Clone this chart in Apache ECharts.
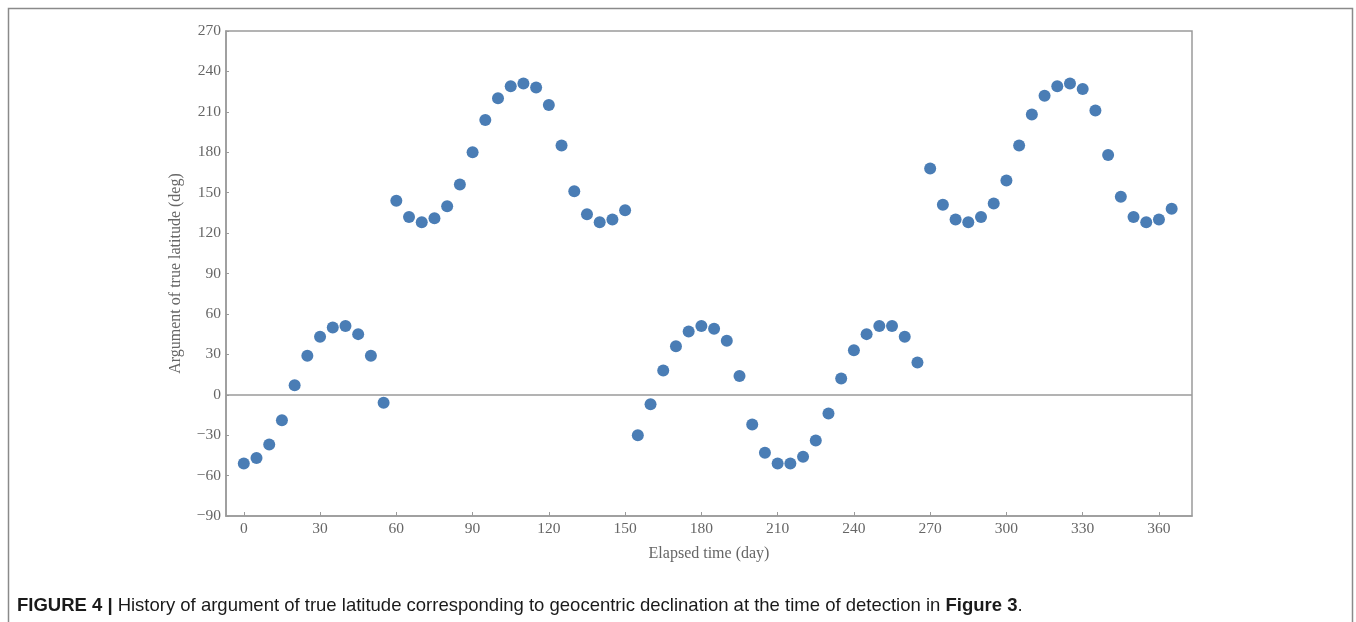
<!DOCTYPE html>
<html>
<head>
<meta charset="utf-8">
<script src="https://cdn.jsdelivr.net/npm/echarts@6/dist/echarts.min.js"></script>
<style>
  html, body { margin: 0; padding: 0; background: #fff; }
  #chart { width: 1356px; height: 622px; }
</style>
</head>
<body>
<div id="chart"></div>
<script>
// Elapsed time of each detection (days) and argument of true latitude (deg)
const days = [
  0, 5, 10, 15, 20, 25, 30, 35, 40, 45, 50, 55,
  60, 65, 70, 75, 80, 85, 90, 95, 100, 105, 110, 115, 120, 125, 130, 135, 140, 145, 150,
  155, 160, 165, 170, 175, 180, 185, 190, 195, 200, 205, 210, 215, 220, 225, 230, 235,
  240, 245, 250, 255, 260, 265,
  270, 275, 280, 285, 290, 295, 300, 305, 310, 315, 320, 325, 330, 335, 340, 345, 350, 355, 360, 365
];
const latitudeArg = [
  -51, -47, -37, -19, 7, 29, 43, 50, 51, 45, 29, -6,
  144, 132, 128, 131, 140, 156, 180, 204, 220, 229, 231, 228, 215, 185, 151, 134, 128, 130, 137,
  -30, -7, 18, 36, 47, 51, 49, 40, 14, -22, -43, -51, -51, -46, -34, -14, 12,
  33, 45, 51, 51, 43, 24,
  168, 141, 130, 128, 132, 142, 159, 185, 208, 222, 229, 231, 227, 211, 178, 147, 132, 128, 130, 138
];
const xTicks = [0, 30, 60, 90, 120, 150, 180, 210, 240, 270, 300, 330, 360];

const points = days.map((d, i) => [d, latitudeArg[i]]);

const serif = '"Liberation Serif", "DejaVu Serif", serif';
const sans = '"Liberation Sans", Arial, sans-serif';
const axisGray = '#9a9a9a';
const labelGray = '#666';
const fmt = v => String(v).replace('-', '\u2212');

const chart = echarts.init(document.getElementById('chart'), null, { renderer: 'canvas' });
chart.setOption({
  animation: false,
  backgroundColor: '#fff',
  title: {
    left: 12,
    top: 591,
    text: '{b|FIGURE 4 |} {n|History of argument of true latitude corresponding to geocentric declination at the time of detection in }{b|Figure 3}{n|.}',
    textStyle: {
      fontWeight: 'normal',
      rich: {
        b: { fontFamily: sans, fontWeight: 'bold', fontSize: 18.5, color: '#1a1a1a' },
        n: { fontFamily: sans, fontWeight: 'normal', fontSize: 18.5, color: '#1a1a1a' }
      }
    }
  },
  graphic: [{
    type: 'rect',
    silent: true,
    shape: { x: 8.5, y: 8.5, width: 1344, height: 700 },
    style: { fill: 'none', stroke: '#8a8a8a', lineWidth: 1.5 }
  }],
  grid: {
    left: 226, right: 164, top: 31, bottom: 106,
    show: true, borderColor: axisGray, borderWidth: 1.5, backgroundColor: 'transparent'
  },
  xAxis: {
    type: 'value',
    min: -7,
    max: 373,
    name: 'Elapsed time (day)',
    nameLocation: 'middle',
    nameGap: 30,
    nameTextStyle: { fontFamily: serif, fontSize: 16, color: labelGray },
    axisLine: { show: true, onZero: false, lineStyle: { color: axisGray, width: 1.5 } },
    axisTick: { show: true, inside: true, length: 4, customValues: xTicks, lineStyle: { color: axisGray } },
    axisLabel: { customValues: xTicks, fontFamily: serif, fontSize: 15.5, color: labelGray, margin: 5, formatter: fmt },
    splitLine: { show: false }
  },
  yAxis: {
    type: 'value',
    min: -90,
    max: 270,
    interval: 30,
    name: 'Argument of true latitude (deg)',
    nameLocation: 'middle',
    nameGap: 42,
    nameTextStyle: { fontFamily: serif, fontSize: 16, color: labelGray },
    axisLine: { show: true, onZero: false, lineStyle: { color: axisGray, width: 1.5 } },
    axisTick: { show: true, inside: true, length: 3, lineStyle: { color: axisGray } },
    axisLabel: { fontFamily: serif, fontSize: 15.5, color: labelGray, margin: 5, formatter: fmt },
    splitLine: { show: false }
  },
  series: [{
    type: 'scatter',
    data: points,
    symbol: 'circle',
    symbolSize: 12,
    itemStyle: { color: '#4a7db5', opacity: 1 },
    markLine: {
      silent: true,
      symbol: 'none',
      label: { show: false },
      lineStyle: { color: axisGray, width: 1.5, type: 'solid' },
      data: [{ yAxis: 0 }]
    }
  }]
});
</script>
</body>
</html>
